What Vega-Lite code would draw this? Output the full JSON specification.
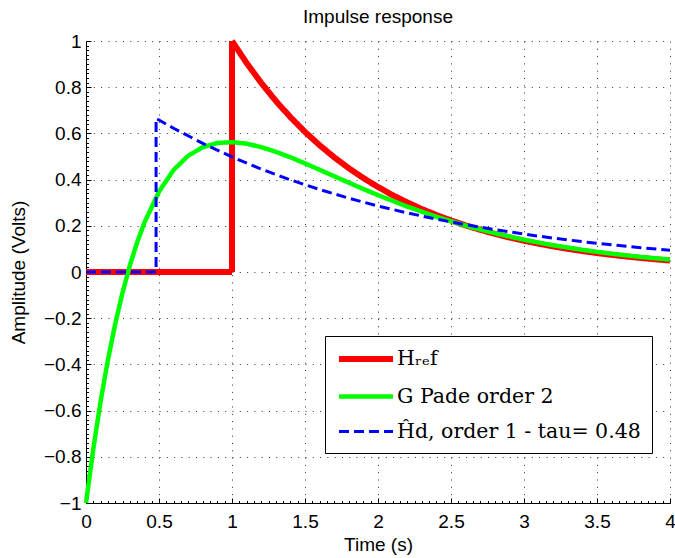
{
  "$schema": "https://vega.github.io/schema/vega-lite/v6.json",
  "autosize": {"type": "none"},
  "width": 584,
  "height": 462,
  "padding": {"left": 86, "top": 41, "right": 5, "bottom": 55},
  "title": {"text": "Impulse response", "fontSize": 19, "font": "Liberation Sans", "fontWeight": "normal", "color": "black", "offset": 2},
  "data": {"values": [
    {"s":"H","k":0,"t":0,"v":0},{"s":"H","k":1,"t":1,"v":0},{"s":"H","k":2,"t":1,"v":1},
    {"s":"H","k":3,"t":1.1,"v":0.9048},{"s":"H","k":4,"t":1.2,"v":0.8187},{"s":"H","k":5,"t":1.3,"v":0.7408},
    {"s":"H","k":6,"t":1.4,"v":0.6703},{"s":"H","k":7,"t":1.5,"v":0.6065},{"s":"H","k":8,"t":1.6,"v":0.5488},
    {"s":"H","k":9,"t":1.7,"v":0.4966},{"s":"H","k":10,"t":1.8,"v":0.4493},{"s":"H","k":11,"t":1.9,"v":0.4066},
    {"s":"H","k":12,"t":2.0,"v":0.3679},{"s":"H","k":13,"t":2.1,"v":0.3329},{"s":"H","k":14,"t":2.2,"v":0.3012},
    {"s":"H","k":15,"t":2.3,"v":0.2725},{"s":"H","k":16,"t":2.4,"v":0.2466},{"s":"H","k":17,"t":2.5,"v":0.2231},
    {"s":"H","k":18,"t":2.6,"v":0.2019},{"s":"H","k":19,"t":2.7,"v":0.1827},{"s":"H","k":20,"t":2.8,"v":0.1653},
    {"s":"H","k":21,"t":2.9,"v":0.1496},{"s":"H","k":22,"t":3.0,"v":0.1353},{"s":"H","k":23,"t":3.1,"v":0.1225},
    {"s":"H","k":24,"t":3.2,"v":0.1108},{"s":"H","k":25,"t":3.3,"v":0.1003},{"s":"H","k":26,"t":3.4,"v":0.0907},
    {"s":"H","k":27,"t":3.5,"v":0.0821},{"s":"H","k":28,"t":3.6,"v":0.0743},{"s":"H","k":29,"t":3.7,"v":0.0672},
    {"s":"H","k":30,"t":3.8,"v":0.0608},{"s":"H","k":31,"t":3.9,"v":0.0550},{"s":"H","k":32,"t":4.0,"v":0.0498},
    {"s":"G","k":0,"t":0,"v":-1},{"s":"G","k":1,"t":0.05,"v":-0.7657},{"s":"G","k":2,"t":0.1,"v":-0.5604},
    {"s":"G","k":3,"t":0.15,"v":-0.3812},{"s":"G","k":4,"t":0.2,"v":-0.2251},{"s":"G","k":5,"t":0.25,"v":-0.0897},
    {"s":"G","k":6,"t":0.3,"v":0.0272},{"s":"G","k":7,"t":0.35,"v":0.1277},{"s":"G","k":8,"t":0.4,"v":0.2136},
    {"s":"G","k":9,"t":0.5,"v":0.3481},{"s":"G","k":10,"t":0.6,"v":0.4417},{"s":"G","k":11,"t":0.7,"v":0.5034},
    {"s":"G","k":12,"t":0.8,"v":0.5404},{"s":"G","k":13,"t":0.9,"v":0.5585},{"s":"G","k":14,"t":1.0,"v":0.5623},
    {"s":"G","k":15,"t":1.1,"v":0.5554},{"s":"G","k":16,"t":1.2,"v":0.5407},{"s":"G","k":17,"t":1.3,"v":0.5205},
    {"s":"G","k":18,"t":1.4,"v":0.4966},{"s":"G","k":19,"t":1.5,"v":0.4702},{"s":"G","k":20,"t":1.6,"v":0.4426},
    {"s":"G","k":21,"t":1.7,"v":0.4146},{"s":"G","k":22,"t":1.8,"v":0.3866},{"s":"G","k":23,"t":1.9,"v":0.3592},
    {"s":"G","k":24,"t":2.0,"v":0.3327},{"s":"G","k":25,"t":2.2,"v":0.2833},{"s":"G","k":26,"t":2.4,"v":0.2392},
    {"s":"G","k":27,"t":2.6,"v":0.2008},{"s":"G","k":28,"t":2.8,"v":0.1676},{"s":"G","k":29,"t":3.0,"v":0.1395},
    {"s":"G","k":30,"t":3.2,"v":0.1156},{"s":"G","k":31,"t":3.4,"v":0.0957},{"s":"G","k":32,"t":3.6,"v":0.0790},
    {"s":"G","k":33,"t":3.8,"v":0.0651},{"s":"G","k":34,"t":4.0,"v":0.0536},
    {"s":"D","k":0,"t":0,"v":0},{"s":"D","k":1,"t":0.48,"v":0},{"s":"D","k":2,"t":0.48,"v":0.665},
    {"s":"D","k":3,"t":0.6,"v":0.6221},{"s":"D","k":4,"t":0.8,"v":0.5567},{"s":"D","k":5,"t":1.0,"v":0.4981},
    {"s":"D","k":6,"t":1.2,"v":0.4458},{"s":"D","k":7,"t":1.4,"v":0.3989},{"s":"D","k":8,"t":1.6,"v":0.3570},
    {"s":"D","k":9,"t":1.8,"v":0.3194},{"s":"D","k":10,"t":2.0,"v":0.2858},{"s":"D","k":11,"t":2.2,"v":0.2558},
    {"s":"D","k":12,"t":2.4,"v":0.2289},{"s":"D","k":13,"t":2.6,"v":0.2048},{"s":"D","k":14,"t":2.8,"v":0.1833},
    {"s":"D","k":15,"t":3.0,"v":0.1640},{"s":"D","k":16,"t":3.2,"v":0.1468},{"s":"D","k":17,"t":3.4,"v":0.1313},
    {"s":"D","k":18,"t":3.6,"v":0.1175},{"s":"D","k":19,"t":3.8,"v":0.1052},{"s":"D","k":20,"t":4.0,"v":0.0941}
  ]},
  "layer": [
    {
      "mark": {"type": "line", "opacity": 0},
      "encoding": {
        "x": {"field": "t", "type": "quantitative", "scale": {"domain": [0, 4], "nice": false, "zero": false},
              "axis": {"orient": "bottom", "tickCount": 80, "labels": false, "grid": false, "domain": false, "title": null, "tickSize": -2.5}},
        "y": {"field": "v", "type": "quantitative", "scale": {"domain": [-1, 1], "nice": false, "zero": false},
              "axis": {"orient": "left", "tickCount": 100, "labels": false, "grid": false, "domain": false, "title": null, "tickSize": -2.5}},
        "detail": {"field": "s"},
        "order": {"field": "k", "type": "quantitative"}
      }
    },
    {
      "encoding": {
        "x": {"field": "t", "type": "quantitative", "scale": {"domain": [0, 4], "nice": false, "zero": false},
              "axis": {"orient": "bottom", "values": [0, 0.5, 1, 1.5, 2, 2.5, 3, 3.5, 4], "format": "~g", "title": "Time (s)", "grid": true, "tickSize": -5, "labelPadding": 14, "titlePadding": 4, "labelFlush": false, "labelOverlap": false}},
        "y": {"field": "v", "type": "quantitative", "scale": {"domain": [-1, 1], "nice": false, "zero": false},
              "axis": {"orient": "left", "values": [-1, -0.8, -0.6, -0.4, -0.2, 0, 0.2, 0.4, 0.6, 0.8, 1], "format": "~g", "title": "Amplitude (Volts)", "grid": true, "tickSize": -5, "labelPadding": 10, "titlePadding": 15, "labelFlush": false, "labelOverlap": false}},
        "color": {"field": "s", "type": "nominal", "scale": {"domain": ["H", "G", "D"], "range": ["#ff0000", "#00ff00", "#0000ff"]},
                  "legend": {"orient": "none", "legendX": 239, "legendY": 295, "title": null, "symbolType": "M-3,0H3", "symbolSize": 324, "symbolOffset": 18,
                             "labelExpr": "datum.value == 'H' ? 'Hᵣₑf' : datum.value == 'G' ? 'G Pade order 2' : 'Ĥd, order 1 - tau= 0.48\u00a0\u00a0'",
                             "labelFont": "DejaVu Serif", "labelFontSize": 20.5, "labelColor": "black", "labelLimit": 0, "labelOffset": 19,
                             "padding": 11, "rowPadding": 14, "strokeColor": "black", "fillColor": "white", "cornerRadius": 0}},
        "strokeDash": {"field": "s", "type": "nominal", "scale": {"domain": ["H", "G", "D"], "range": [[1, 0], [1, 0], [10, 5]]}},
        "strokeWidth": {"field": "s", "type": "nominal", "scale": {"domain": ["H", "G", "D"], "range": [6, 3, 3]}},
        "order": {"field": "k", "type": "quantitative"}
      },
      "layer": [
        {"transform": [{"filter": "datum.s == 'H'"}], "mark": {"type": "line", "strokeJoin": "miter", "strokeCap": "butt"}},
        {"transform": [{"filter": "datum.s == 'G'"}], "mark": {"type": "line", "strokeJoin": "miter", "strokeCap": "butt"}},
        {"transform": [{"filter": "datum.s == 'D'"}], "mark": {"type": "line", "strokeJoin": "miter", "strokeCap": "butt"}}
      ]
    }
  ],
  "resolve": {"scale": {"x": "independent", "y": "independent"}, "axis": {"x": "independent", "y": "independent"}},
  "config": {
    "view": {"stroke": null},
    "font": "Liberation Sans",
    "axis": {"labelFont": "Liberation Sans", "labelFontSize": 19, "labelColor": "black", "titleFont": "Liberation Sans", "titleFontSize": 19, "titleFontWeight": "normal", "titleColor": "black", "domainColor": "black", "tickColor": "black", "gridColor": "#333333", "gridDash": [1, 6.3], "gridOpacity": 1, "gridWidth": 1}
  }
}
